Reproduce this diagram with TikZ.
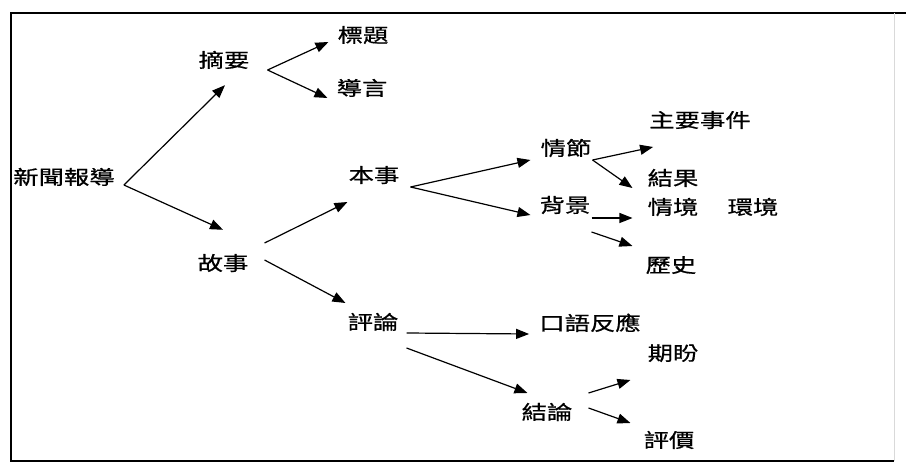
\documentclass[tikz,border=0pt]{standalone}
\usepackage{fontspec}
\usepackage{graphicx}
\usetikzlibrary{arrows.meta}
\newfontfamily\cjk[FakeBold=0.6]{Noto Sans CJK TC}
\newcommand{\wtxt}[1]{\scalebox{1.3}[1]{#1}}

\begin{document}
\begin{tikzpicture}[x=1pt, y=1pt, >={Triangle[length=13pt,width=10pt]},
  lbl/.style={font=\cjk\fontsize{19.5}{20}\selectfont, inner sep=0pt,
    text height=16.4pt, text depth=1.6pt},
  arr/.style={->, line width=1.2pt}]

  \useasboundingbox (0,0) rectangle (906,464);

  % frame
  \draw[line width=1.6pt] (906,451) -- (11,451) -- (11,3) -- (894,3);
  \draw[gray!30, line width=0.8pt] (894,451) -- (894,3);

  % Define coordinates for nodes
  \node[lbl] (news) at (64,287) {\wtxt{新聞報導}};
  \node[lbl] (summary) at (224,404) {\wtxt{摘要}};
  \node[lbl] (title) at (363,429) {\wtxt{標題}};
  \node[lbl] (lead) at (362,376) {\wtxt{導言}};
  \node[lbl] (story) at (223,201) {\wtxt{故事}};
  \node[lbl] (main) at (374,289) {\wtxt{本事}};
  \node[lbl] (comment) at (373,142) {\wtxt{評論}};
  \node[lbl] (plot) at (566,316) {\wtxt{情節}};
  \node[lbl] (setting) at (565,259) {\wtxt{背景}};
  \node[lbl] (event) at (700,344) {\wtxt{主要事件}};
  \node[lbl] (result) at (673,286) {\wtxt{結果}};
  \node[lbl] (situation) at (673,257) {\wtxt{情境}};
  \node[lbl] (environ) at (753,257) {\wtxt{環境}};
  \node[lbl] (history) at (671,199) {\wtxt{歷史}};
  \node[lbl] (oral) at (590,141) {\wtxt{口語反應}};
  \node[lbl] (expect) at (673,111) {\wtxt{期盼}};
  \node[lbl] (concl) at (547,52) {\wtxt{結論}};
  \node[lbl] (evaluate) at (669,24) {\wtxt{評價}};

  % Draw arrows between nodes
  \draw[arr] ([shift={(9,-8)}]news.east) -- ([shift={(1,-16)}]summary.south);
  \draw[arr] ([shift={(9,-8)}]news.east) -- ([shift={(0,24)}]story.north);
  \draw[arr] ([shift={(18,-10)}]summary.east) -- ([shift={(-9,-7)}]title.west);
  \draw[arr] ([shift={(18,-10)}]summary.east) -- ([shift={(-9,-10)}]lead.west);
  \draw[arr] ([shift={(16,20)}]story.east) -- ([shift={(-1,-27)}]main.west);
  \draw[arr] ([shift={(16,3)}]story.east) -- ([shift={(-2,19)}]comment.west);
  \draw[arr] ([shift={(11,-12)}]main.east) -- ([shift={(-10,-12)}]plot.west);
  \draw[arr] ([shift={(11,-12)}]main.east) -- ([shift={(-9,-10)}]setting.west);
  \draw[arr] ([shift={(1,-12)}]plot.east) -- ([shift={(4,-27)}]event.west);
  \draw[arr] ([shift={(1,-12)}]plot.east) -- ([shift={(-15,-10)}]result.west);
  \draw[arr] ([shift={(1,-13)}]setting.east) -- ([shift={(-15,-11)}]situation.west);
  \draw[arr] ([shift={(1,-27)}]setting.east) -- ([shift={(-13,19)}]history.west);
  \draw[arr] ([shift={(8,-11)}]comment.east) -- ([shift={(-10,-11)}]oral.west);
  \draw[arr] ([shift={(8,-26)}]comment.east) -- ([shift={(6,19)}]concl.west);
  \draw[arr] ([shift={(16,19)}]concl.east) -- ([shift={(-17,-27)}]expect.west);
  \draw[arr] ([shift={(16,4)}]concl.east) -- ([shift={(-13,17)}]evaluate.west);
\end{tikzpicture}
\end{document}
